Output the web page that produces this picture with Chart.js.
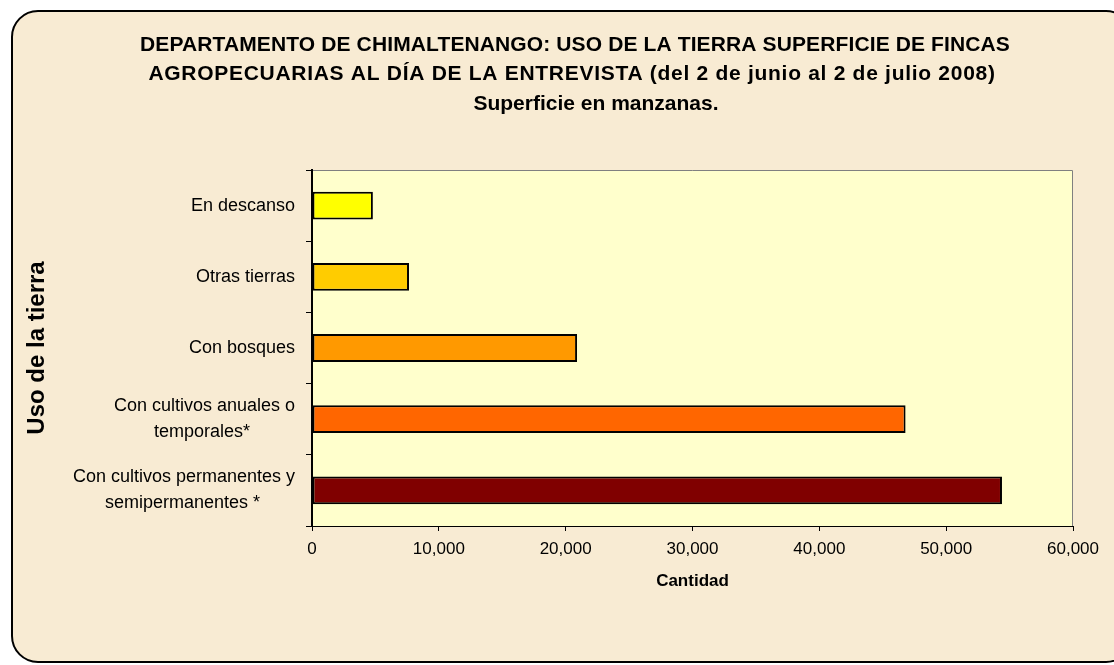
<!DOCTYPE html>
<html>
<head>
<meta charset="utf-8">
<script src="https://cdn.jsdelivr.net/npm/chart.js@4/dist/chart.umd.min.js"></script>
<style>
    html, body { margin: 0; padding: 0; background: #ffffff; }
    #wrap { width: 1114px; height: 665px; position: relative; }
</style>
</head>
<body>
<div id="wrap"><canvas id="grafica"></canvas></div>
<script>
// datos (manzanas)
const categorias = [
    'En descanso',
    'Otras tierras',
    'Con bosques',
    ['Con cultivos anuales o', 'temporales*         '],
    ['Con cultivos permanentes y', 'semipermanentes *       ']
];
const superficie = [4800, 7650, 20900, 46800, 54400];
const coloresBarra = ['#FFFF00', '#FFCC00', '#FF9900', '#FF6600', '#800000'];
const ticksX = [0, 10000, 20000, 30000, 40000, 50000, 60000];

const titulo = [
    'DEPARTAMENTO DE CHIMALTENANGO: USO DE LA TIERRA SUPERFICIE DE FINCAS',
    'AGROPECUARIAS AL DÍA DE LA ENTREVISTA (del 2 de junio al 2 de julio 2008)',
    'Superficie en manzanas.'
];

// fondo beige con marco redondeado y área del gráfico amarilla
const fondo = {
    id: 'fondo',
    beforeDraw(chart) {
        const c = chart.ctx;
        const a = chart.chartArea;
        c.save();
        c.fillStyle = '#ffffff';
        c.fillRect(0, 0, chart.width, chart.height);
        c.beginPath();
        c.roundRect(12, 11, 1120, 651, 26);
        c.fillStyle = '#F8EBD3';
        c.fill();
        c.lineWidth = 2;
        c.strokeStyle = '#000000';
        c.stroke();
        c.fillStyle = '#FFFFCC';
        c.fillRect(a.left, a.top, a.right - a.left, a.bottom - a.top);
        c.strokeStyle = '#808080';
        c.lineWidth = 1;
        c.beginPath();
        c.moveTo(a.left, a.top + 0.5);
        c.lineTo(a.right - 0.5, a.top + 0.5);
        c.lineTo(a.right - 0.5, a.bottom);
        c.stroke();
        c.restore();
    }
};

// título en tres líneas, algo desplazado a la derecha como en el original
const tituloPlugin = {
    id: 'tituloPlugin',
    afterDraw(chart) {
        const c = chart.ctx;
        const centros = [575, 572, 596];
        const anchos = [870, 847, 218];
        c.save();
        c.font = 'bold 21px "Liberation Sans", Arial';
        c.fillStyle = '#000000';
        c.textAlign = 'center';
        c.textBaseline = 'middle';
        titulo.forEach((linea, i) => {
            c.letterSpacing = '0px';
            const w = c.measureText(linea).width;
            const esp = Math.max(0, (anchos[i] - w) / linea.length);
            c.letterSpacing = esp.toFixed(2) + 'px';
            c.fillText(linea, centros[i], 45 + i * 29.5);
        });
        c.letterSpacing = '0px';
        c.restore();
    }
};

const ctx = document.getElementById('grafica').getContext('2d');
new Chart(ctx, {
    type: 'bar',
    data: {
        labels: categorias,
        datasets: [{
            data: superficie,
            backgroundColor: coloresBarra,
            borderColor: '#000000',
            borderWidth: 2,
            borderSkipped: false,
            categoryPercentage: 1,
            barPercentage: 0.39
        }]
    },
    options: {
        indexAxis: 'y',
        responsive: true,
        maintainAspectRatio: false,
        animation: false,
        layout: {
            padding: { left: 20, right: 41, top: 170, bottom: 69 }
        },
        plugins: {
            legend: { display: false },
            tooltip: { enabled: false },
            title: { display: false }
        },
        scales: {
            x: {
                min: 0,
                max: 60000,
                afterBuildTicks(scale) {
                    scale.ticks = ticksX.map(v => ({ value: v }));
                },
                afterFit(scale) { scale.height = 70; },
                grid: { drawOnChartArea: false, tickLength: 5, color: '#000000' },
                border: { color: '#000000', width: 1 },
                ticks: {
                    color: '#000000',
                    padding: 8,
                    maxRotation: 0,
                    font: { family: 'Liberation Sans, Arial', size: 17 },
                    callback: v => v.toLocaleString('en-US')
                },
                title: {
                    display: true,
                    text: 'Cantidad',
                    color: '#000000',
                    font: { family: 'Liberation Sans, Arial', size: 17, weight: 'bold' },
                    padding: { top: 4, bottom: 4 }
                }
            },
            y: {
                afterFit(scale) { scale.width = 292; },
                grid: { drawOnChartArea: false, offset: true, tickLength: 6, color: '#000000' },
                border: { color: '#000000', width: 2 },
                ticks: {
                    color: '#000000',
                    padding: 11,
                    font: { family: 'Liberation Sans, Arial', size: 18, lineHeight: 1.44 }
                },
                title: {
                    display: true,
                    text: 'Uso de la tierra',
                    color: '#000000',
                    font: { family: 'Liberation Sans, Arial', size: 24, weight: 'bold' },
                    padding: { top: 3 }
                }
            }
        }
    },
    plugins: [fondo, tituloPlugin]
});
</script>
</body>
</html>
